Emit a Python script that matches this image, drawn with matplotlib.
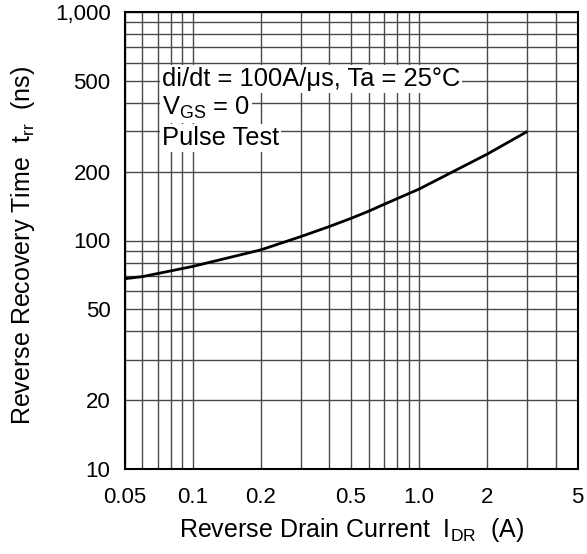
import matplotlib
matplotlib.use("Agg")
import matplotlib.pyplot as plt
from matplotlib.ticker import FixedLocator, FixedFormatter, LogLocator, NullFormatter

plt.rcParams['font.family'] = ['Liberation Sans', 'DejaVu Sans']
plt.rcParams['mathtext.default'] = 'regular'

# Data
current_a = [0.05, 0.06, 0.1, 0.2, 0.3, 0.4, 0.5, 0.6, 0.7, 1.0, 2.0, 3.0]
trr_ns = [68, 69.5, 77, 91, 104, 115, 125, 134.5, 144, 168, 239, 300]

x_ticks = [0.05, 0.1, 0.2, 0.5, 1.0, 2, 5]
x_tick_labels = ["0.05", "0.1", "0.2", "0.5", "1.0", "2", "5"]
y_ticks = [10, 20, 50, 100, 200, 500, 1000]
y_tick_labels = ["10", "20", "50", "100", "200", "500", "1,000"]

annotation_lines = ["di/dt = 100A/\u03bcs, Ta = 25\u00b0C", "$V_{GS}$ = 0", "Pulse Test"]

fig = plt.figure(figsize=(5.87, 5.54), dpi=100)
ax = fig.add_axes([124.5 / 587, 1 - 469 / 554, 453 / 587, 457 / 554])

ax.set_xscale('log')
ax.set_yscale('log')
ax.set_xlim(0.05, 5)
ax.set_ylim(10, 1000)

# grid at every 1..9 x decade
ax.xaxis.set_minor_locator(LogLocator(base=10, subs=range(1, 10)))
ax.yaxis.set_minor_locator(LogLocator(base=10, subs=range(1, 10)))
ax.xaxis.set_minor_formatter(NullFormatter())
ax.yaxis.set_minor_formatter(NullFormatter())
ax.grid(True, which='both', color='#4a4a4a', linewidth=1.0)
ax.set_axisbelow(True)

ax.xaxis.set_major_locator(FixedLocator(x_ticks))
ax.xaxis.set_major_formatter(FixedFormatter(x_tick_labels))
ax.yaxis.set_major_locator(FixedLocator(y_ticks))
ax.yaxis.set_major_formatter(FixedFormatter(y_tick_labels))
ax.tick_params(which='both', length=0)
ax.tick_params(axis='x', labelsize=16, pad=13)
ax.tick_params(axis='y', labelsize=16, pad=10)

ax.plot(current_a, trr_ns, color='black', linewidth=2, solid_capstyle='butt')

for s in ax.spines.values():
    s.set_color('black')
    s.set_linewidth(1.5)

ax.set_xlabel("Reverse Drain Current  $I_{DR}$  (A)", fontsize=18, labelpad=6)
ax.set_ylabel("Reverse Recovery Time  $t_{rr}$  (ns)", fontsize=18, labelpad=13)
ax.yaxis.label.set_y(0.49)

baselines = [0.838, 0.7746, 0.709]
for txt, yb in zip(annotation_lines, baselines):
    ax.text(0.082, yb, txt, transform=ax.transAxes, fontsize=18.4, va='baseline', ha='left',
            bbox=dict(facecolor='white', edgecolor='none', pad=1.5), zorder=5)

fig.savefig("out.png", dpi=100)
